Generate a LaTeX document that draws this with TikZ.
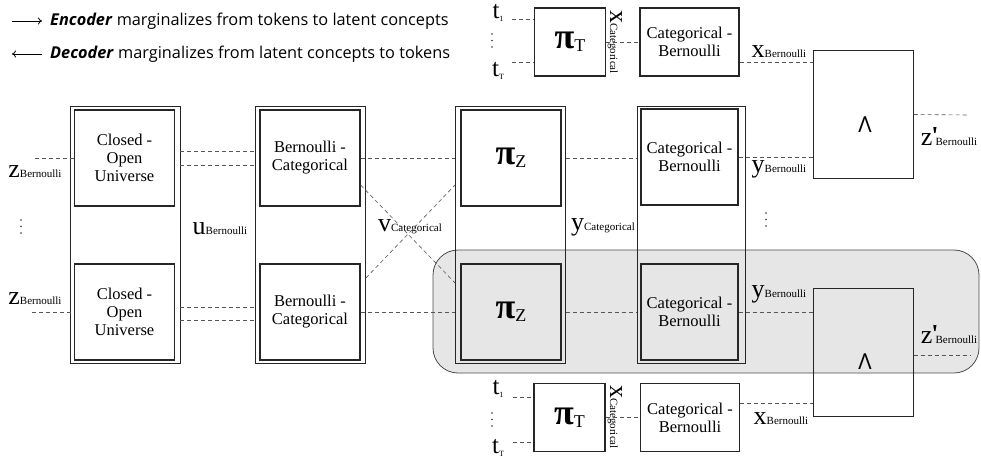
\documentclass[tikz,border=0pt]{standalone}
\usepackage{fontspec}
\setmainfont{Liberation Serif}
\newfontfamily\legendfont{Open Sans}
\usetikzlibrary{calc,arrows.meta,positioning}
\definecolor{regionfill}{HTML}{E6E6E6}
\definecolor{wiregray}{HTML}{555555}

% big variable with a small name next to it
\newcommand{\bigvar}[2]{{\fontsize{26}{26}\selectfont #1}{\fontsize{11}{11}\selectfont #2}}
\newcommand{\primevar}[2]{{\fontsize{26}{26}\selectfont #1\kern-1pt\raisebox{1pt}{\bfseries\textquotesingle}}\kern-3pt{\fontsize{11}{11}\selectfont #2}}
\newcommand{\tokvar}[1]{{\fontsize{25}{25}\selectfont t}{\fontsize{8}{8}\selectfont\raisebox{-3pt}{#1}}}
\newcommand{\pivar}[1]{{\fontsize{36}{36}\selectfont\bfseries π}{\fontsize{18}{18}\selectfont\raisebox{-3pt}{#1}}}

\begin{document}
\begin{tikzpicture}[x=1pt, y=-1pt,
    colbox/.style={draw=black!85, line width=0.8pt, minimum width=110pt, minimum height=257pt, inner sep=0pt},
    blk/.style={draw=black!85, line width=1.2pt, minimum width=100pt, minimum height=96pt, inner sep=0pt,
      align=center, font=\fontsize{16.5}{18}\selectfont},
    tokbox/.style={blk, minimum width=71pt, minimum height=68pt},
    andbox/.style={draw=black!85, line width=1pt, minimum width=100pt, minimum height=127pt, inner sep=0pt},
    andsym/.style={inner sep=0pt, font=\legendfont\fontsize{22}{22}\selectfont},
    wire/.style={wiregray, line width=0.6pt, dash pattern=on 4pt off 3pt},
    var/.style={inner sep=0pt},
    legend/.style={anchor=west, inner sep=0pt, font=\legendfont\fontsize{16.3}{18}\selectfont},
    region/.style={draw=black!70, fill=regionfill, line width=0.8pt, rounded corners=25pt}]
  \useasboundingbox (0,0) rectangle (981,457);

  % Legend
  \node[legend] (enc) at (50,21) {\textbf{\textit{Encoder}} marginalizes from tokens to latent concepts};
  \node[legend] (dec) at (50,54) {\textbf{\textit{Decoder}} marginalizes from latent concepts to tokens};
  \coordinate (encstart) at (12,21);
  \coordinate (decend) at (12,54);
  \draw[-{To[length=4pt,width=7pt]}, line width=0.8pt] (encstart) -- ([xshift=-8pt]enc.west);
  \draw[-{To[length=4pt,width=7pt]}, line width=0.8pt] ([xshift=-8pt]dec.west) -- (decend);

  % Shaded last row
  \draw[region] (433,250) rectangle (979,373);

  % Columns
  \node[colbox] (col1) at (125,234.5) {};
  \node[colbox] (col2) at (310.5,234.5) {};
  \node[colbox] (col3) at (510.5,234.5) {};
  \node[colbox, minimum width=108pt] (col4) at (691,234.5) {};
  \node[blk] (cou1) at (124.5,158) {Closed -\\Open\\Universe};
  \node[blk] (cou2) at (124.5,312) {Closed -\\Open\\Universe};
  \node[blk] (bc1) at (310,158) {Bernoulli -\\Categorical};
  \node[blk] (bc2) at (310,312) {Bernoulli -\\Categorical};
  \node[blk] (piz1) at (511,158) {\pivar{Z}};
  \node[blk] (piz2) at (511,312) {\pivar{Z}};
  \node[blk, minimum width=97pt] (cb1) at (689.5,157) {Categorical -\\Bernoulli};
  \node[blk, minimum width=97pt] (cb2) at (689.5,312) {Categorical -\\Bernoulli};

  % And boxes
  \node[andbox] (and1) at (863,114.5) {};
  \node[andbox, minimum height=128pt] (and2) at (863,352) {};
  \node[andsym] (andlab1) at ($(and1.center)+(2,10)$) {Λ};
  \node[andsym] (andlab2) at ($(and2.center)+(2,10)$) {Λ};

  % Token rows
  \node[tokbox] (pit1) at (570,42) {\pivar{T}};
  \node[tokbox, minimum width=99pt] (cbt1) at (689.5,42) {Categorical -\\Bernoulli};
  \node[tokbox] (pit2) at (569.5,417.5) {\pivar{T}};
  \node[tokbox, minimum width=99pt] (cbt2) at (690,417.5) {Categorical -\\Bernoulli};

  % Variable labels
  \node[var] (zl1) at (35,172) {\bigvar{z}{Bernoulli}};
  \node[var] (zl2) at (35,299) {\bigvar{z}{Bernoulli}};
  \node[var] (ul) at (220,229) {\bigvar{u}{Bernoulli}};
  \node[var] (vl) at (410,227) {\bigvar{v}{Categorical}};
  \node[var] (yl) at (603,227) {\bigvar{y}{Categorical}};
  \node[var] (ybl1) at (779,169) {\bigvar{y}{Bernoulli}};
  \node[var] (ybl2) at (779,294) {\bigvar{y}{Bernoulli}};
  \node[var] (zpl1) at (949,137) {\primevar{z}{Bernoulli}};
  \node[var] (zpl2) at (949,335) {\primevar{z}{Bernoulli}};
  \node[var] (xbl1) at (779,52) {\bigvar{x}{Bernoulli}};
  \node[var] (xbl2) at (781,419) {\bigvar{x}{Bernoulli}};
  \node[var, rotate=-90] (xcl1) at (615,42) {\bigvar{x}{Categorical}};
  \node[var, rotate=-90] (xcl2) at (615,417) {\bigvar{x}{Categorical}};
  \node[var] (t11) at (498,13) {\tokvar{1}};
  \node[var] (tT1) at (498,71) {\tokvar{T}};
  \node[var] (t12) at (498,389) {\tokvar{1}};
  \node[var] (tT2) at (498,448) {\tokvar{T}};

  % Vertical dots
  \foreach \dx/\dy in {21/220, 766/213, 492/34, 492/413}
    \foreach \k in {0,1,2}
      \fill[black!80] (\dx,\dy+\k*6.5) circle (0.85pt);

  % Free ends of the wires
  \coordinate (zin1) at (35,158);
  \coordinate (zin2) at (32,312);
  \coordinate (zout1) at (968,115);
  \coordinate (zout2) at (970,355);
  \coordinate (tin11) at (512,19);
  \coordinate (tinT1) at (512,62);
  \coordinate (tin12) at (513,397);
  \coordinate (tinT2) at (513,442);

  % Wires
  \draw[wire] (zin1) -- (cou1.west);
  \draw[wire] (zin2) -- (cou2.west);
  \draw[wire] (col1.east |- 0,151) -- (col2.west |- 0,151);
  \draw[wire] (col1.east |- 0,165) -- (col2.west |- 0,165);
  \draw[wire] (col1.east |- 0,307) -- (col2.west |- 0,307);
  \draw[wire] (col1.east |- 0,320) -- (col2.west |- 0,320);
  \draw[wire] (bc1.east) -- (col3.west |- bc1.east);
  \draw[wire] (bc2.east) -- (col3.west |- bc2.east);
  \draw[wire] (bc1.east |- 0,185) -- (col3.west |- 0,283);
  \draw[wire] (col2.east |- 0,278) -- (col3.west |- 0,185);
  \draw[wire] (col3.east |- piz1.east) -- (col4.west |- piz1.east);
  \draw[wire] (col3.east |- piz2.east) -- (col4.west |- piz2.east);
  \draw[wire] (cb1.east) -- (and1.west |- cb1.east);
  \draw[wire] (cb2.east) -- (and2.west |- cb2.east);
  \draw[wire] (and1.east) -- (zout1);
  \draw[wire] (and2.east |- zout2) -- (zout2);
  \draw[wire] (tin11) -- (pit1.west |- tin11);
  \draw[wire] (tinT1) -- (pit1.west |- tinT1);
  \draw[wire] (tin12) -- (pit2.west |- tin12);
  \draw[wire] (tinT2) -- (pit2.west |- tinT2);
  \draw[wire] (pit1.east) -- (cbt1.west);
  \draw[wire] (pit2.east) -- (cbt2.west);
  \draw[wire] (cbt1.east |- 0,62) -- (and1.west |- 0,62);
  \draw[wire] (cbt2.east |- 0,403) -- (and2.west |- 0,403);
\end{tikzpicture}
\end{document}
